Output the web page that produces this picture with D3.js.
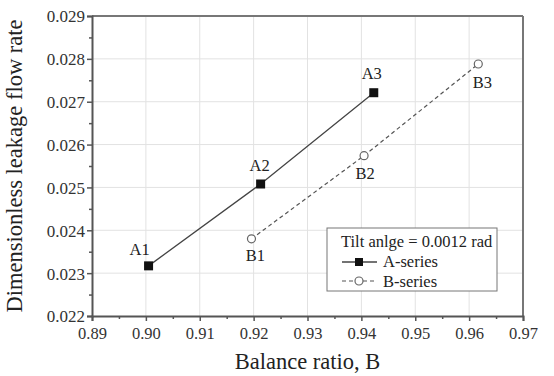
<!DOCTYPE html>
<html>
<head>
<meta charset="utf-8">
<script src="https://cdn.jsdelivr.net/npm/d3@7"></script>
<style>
  body { margin: 0; background: #fff; }
</style>
</head>
<body>
<main></main>
<script>
// data
const seriesNames = ["A-series", "B-series"];
const aLabels = ["A1", "A2", "A3"];
const aX = [0.9005, 0.9213, 0.9423];
const aY = [0.02317, 0.02508, 0.02721];
const bLabels = ["B1", "B2", "B3"];
const bX = [0.9196, 0.9405, 0.9617];
const bY = [0.02380, 0.02574, 0.02788];
const xTicks = [0.89, 0.90, 0.91, 0.92, 0.93, 0.94, 0.95, 0.96, 0.97];
const yTicks = [0.022, 0.023, 0.024, 0.025, 0.026, 0.027, 0.028, 0.029];
const legendTitle = "Tilt anlge = 0.0012 rad";

const FONT = "'Liberation Serif', 'Times New Roman', serif";

var margin = {top: 16, right: 31, bottom: 60, left: 92},
  width = 554 - margin.left - margin.right,
  height = 376 - margin.top - margin.bottom;

var svg = d3.select("main")
  .append("svg")
  .attr("width", 554)
  .attr("height", 376)
  .attr("font-family", FONT)
  .append("g")
  .attr("transform", "translate(" + margin.left + "," + margin.top + ")");

var x = d3.scaleLinear().domain([0.89, 0.97]).range([0, width]);
var y = d3.scaleLinear().domain([0.022, 0.029]).range([height, 0]);

//grid
svg.append("g").selectAll("line")
  .data(xTicks.slice(1, -1)).enter().append("line")
  .attr("x1", d => x(d)).attr("x2", d => x(d))
  .attr("y1", 0).attr("y2", height)
  .style("stroke", "#e2e2e2");
svg.append("g").selectAll("line")
  .data(yTicks.slice(1, -1)).enter().append("line")
  .attr("y1", d => y(d)).attr("y2", d => y(d))
  .attr("x1", 0).attr("x2", width)
  .style("stroke", "#e2e2e2");

//frame top/right
svg.append("line").attr("x1", 0).attr("x2", width).attr("y1", 0).attr("y2", 0)
  .style("stroke", "#777").style("stroke-width", 2);
svg.append("line").attr("x1", width).attr("x2", width).attr("y1", 0).attr("y2", height)
  .style("stroke", "#777").style("stroke-width", 2);

//minor ticks
var xMinor = xTicks.slice(0, -1).map(d => d + 0.005);
var yMinor = yTicks.slice(0, -1).map(d => d + 0.0005);

var xAxis = svg.append("g")
  .attr("transform", "translate(0," + height + ")")
  .call(d3.axisBottom(x).tickValues(xTicks).tickFormat(d3.format(".2f")).tickSizeOuter(0).tickSize(5).tickPadding(6));
svg.append("g")
  .attr("transform", "translate(0," + height + ")")
  .call(d3.axisBottom(x).tickValues(xMinor).tickFormat("").tickSizeOuter(0).tickSize(3))
  .select(".domain").remove();

var yAxis = svg.append("g")
  .call(d3.axisLeft(y).tickValues(yTicks).tickFormat(d3.format(".3f")).tickSizeOuter(0).tickSize(5).tickPadding(2));
svg.append("g")
  .call(d3.axisLeft(y).tickValues(yMinor).tickFormat("").tickSizeOuter(0).tickSize(3))
  .select(".domain").remove();

svg.selectAll(".domain").style("stroke", "#555").style("stroke-width", 2);
svg.selectAll(".tick line").style("stroke", "#555").style("stroke-width", 1.5);
svg.selectAll("g").attr("font-family", null);
xAxis.selectAll(".tick text")
  .attr("font-family", FONT)
  .attr("font-size", "16.5px")
  .style("fill", "#333");
yAxis.selectAll(".tick text")
  .attr("font-family", FONT)
  .attr("font-size", "17px")
  .attr("dy", "0.35em")
  .style("fill", "#333");

//axis titles
svg.append("text")
  .attr("x", width / 2)
  .attr("y", height + 53)
  .attr("text-anchor", "middle")
  .attr("font-family", FONT)
  .attr("font-size", "22.5px")
  .style("fill", "#222")
  .text("Balance ratio, B");

svg.append("text")
  .attr("transform", "translate(-70," + (height / 2) + ") rotate(-90)")
  .attr("text-anchor", "middle")
  .attr("font-family", FONT)
  .attr("font-size", "22.5px")
  .style("fill", "#222")
  .text("Dimensionless leakage flow rate");

//series lines
var line = d3.line().x(d => x(d[0])).y(d => y(d[1]));
var aPts = aX.map((v, i) => [v, aY[i]]);
var bPts = bX.map((v, i) => [v, bY[i]]);

svg.append("path").datum(aPts).attr("d", line)
  .style("fill", "none").style("stroke", "#444").style("stroke-width", 1.3);
svg.append("path").datum(bPts).attr("d", line)
  .style("fill", "none").style("stroke", "#555").style("stroke-width", 1.2)
  .style("stroke-dasharray", "4,3");

svg.selectAll(".markA").data(aPts).enter().append("rect")
  .attr("class", "markA")
  .attr("x", d => x(d[0]) - 4.5).attr("y", d => y(d[1]) - 4.5)
  .attr("width", 9).attr("height", 9)
  .style("fill", "#111");

svg.selectAll(".markB").data(bPts).enter().append("circle")
  .attr("class", "markB")
  .attr("cx", d => x(d[0])).attr("cy", d => y(d[1]))
  .attr("r", 4)
  .style("fill", "#fff").style("stroke", "#666").style("stroke-width", 1.2);

//point labels
var aOff = [[-9, -11], [-1, -13], [-2, -14]];
var bOff = [[4, 22], [1, 23], [4, 24]];
svg.selectAll(".labA").data(aPts).enter().append("text")
  .attr("x", (d, i) => x(d[0]) + aOff[i][0])
  .attr("y", (d, i) => y(d[1]) + aOff[i][1])
  .attr("text-anchor", "middle")
  .attr("font-family", FONT)
  .attr("font-size", "16.5px")
  .style("fill", "#222")
  .text((d, i) => aLabels[i]);
svg.selectAll(".labB").data(bPts).enter().append("text")
  .attr("x", (d, i) => x(d[0]) + bOff[i][0])
  .attr("y", (d, i) => y(d[1]) + bOff[i][1])
  .attr("text-anchor", "middle")
  .attr("font-family", FONT)
  .attr("font-size", "16.5px")
  .style("fill", "#222")
  .text((d, i) => bLabels[i]);

//legend
var lg = svg.append("g").attr("transform", "translate(235,212)")
  .attr("font-family", FONT).attr("font-size", "16.5px");
lg.append("rect")
  .attr("width", 170).attr("height", 63)
  .style("fill", "#fff").style("stroke", "#777").style("stroke-width", 1);
lg.append("text").attr("x", 14).attr("y", 19)
  .style("fill", "#222").text(legendTitle);

lg.append("line").attr("x1", 15).attr("x2", 50).attr("y1", 34).attr("y2", 34)
  .style("stroke", "#444").style("stroke-width", 1.3);
lg.append("rect").attr("x", 28).attr("y", 30).attr("width", 8).attr("height", 8)
  .style("fill", "#111");
lg.append("text").attr("x", 56).attr("y", 39)
  .style("fill", "#222").text(seriesNames[0]);

lg.append("line").attr("x1", 15).attr("x2", 50).attr("y1", 53).attr("y2", 53)
  .style("stroke", "#555").style("stroke-width", 1.2).style("stroke-dasharray", "4,3");
lg.append("circle").attr("cx", 32).attr("cy", 53).attr("r", 4)
  .style("fill", "#fff").style("stroke", "#666").style("stroke-width", 1.2);
lg.append("text").attr("x", 56).attr("y", 59)
  .style("fill", "#222").text(seriesNames[1]);
</script>
</body>
</html>
